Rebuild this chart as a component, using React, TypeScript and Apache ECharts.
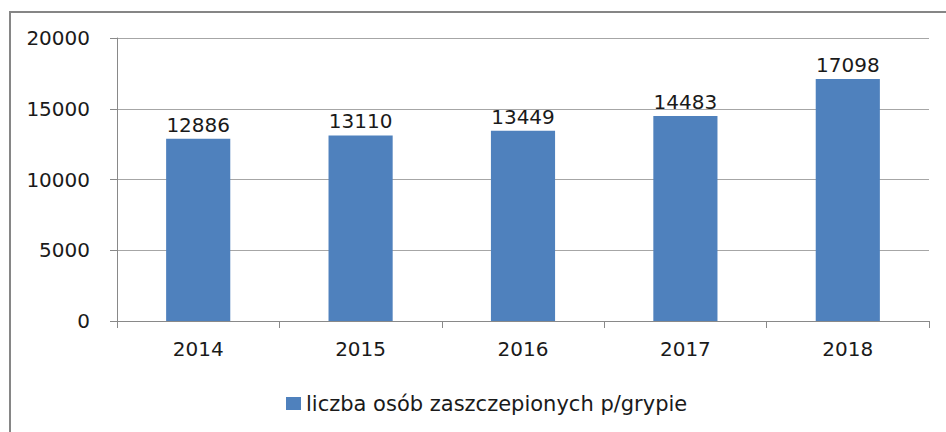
import React, { useEffect, useRef } from "react";
import * as echarts from "echarts";

const categories = ["2014", "2015", "2016", "2017", "2018"];
const values = [12886, 13110, 13449, 14483, 17098];
const seriesName = "liczba osób zaszczepionych p/grypie";
const yTicks = { min: 0, max: 20000, interval: 5000 };

export default function App() {
  const ref = useRef<HTMLDivElement>(null);
  useEffect(() => {
    if (!ref.current) return;
    const chart = echarts.init(ref.current, undefined, { renderer: "svg" });
    const font = "DejaVu Sans";
    chart.setOption({
      animation: false,
      backgroundColor: "#ffffff",
      textStyle: { fontFamily: font },
      graphic: [
        {
          type: "rect",
          shape: { x: 10, y: 12, width: 1000, height: 1000 },
          style: { fill: "none", stroke: "#868686", lineWidth: 2 },
          silent: true,
        },
      ],
      grid: { left: 117, right: 17, top: 38, bottom: 111 },
      legend: {
        data: [seriesName],
        left: 281,
        top: 388,
        itemWidth: 15,
        itemHeight: 13,
        itemGap: 5,
        icon: "rect",
        textStyle: { fontFamily: font, fontSize: 21, color: "#1a1a1a" },
      },
      xAxis: {
        type: "category",
        data: categories,
        axisLine: { lineStyle: { color: "#898989", width: 1 } },
        axisTick: { show: true, length: 7, alignWithLabel: false, lineStyle: { color: "#898989" } },
        axisLabel: { fontFamily: font, fontSize: 20, color: "#1a1a1a", margin: 18 },
      },
      yAxis: {
        type: "value",
        min: yTicks.min,
        max: yTicks.max,
        interval: yTicks.interval,
        axisLine: { show: true, lineStyle: { color: "#898989", width: 1 } },
        axisTick: { show: true, length: 7, lineStyle: { color: "#898989" } },
        splitLine: { show: true, lineStyle: { color: "#a6a6a6", width: 1 } },
        axisLabel: {
          fontFamily: font,
          fontSize: 20,
          color: "#1a1a1a",
          margin: 27,
          formatter: (v: number) => String(v),
        },
      },
      series: [
        {
          name: seriesName,
          type: "bar",
          data: values,
          barWidth: "39.5%",
          itemStyle: { color: "#4F81BD" },
          label: {
            show: true,
            position: "top",
            distance: 4,
            fontFamily: font,
            fontSize: 20,
            color: "#1a1a1a",
          },
        },
      ],
    });
    return () => chart.dispose();
  }, []);
  return (
    <div
      ref={ref}
      style={{ position: "absolute", left: 0, top: 0, width: 946, height: 432 }}
    />
  );
}
